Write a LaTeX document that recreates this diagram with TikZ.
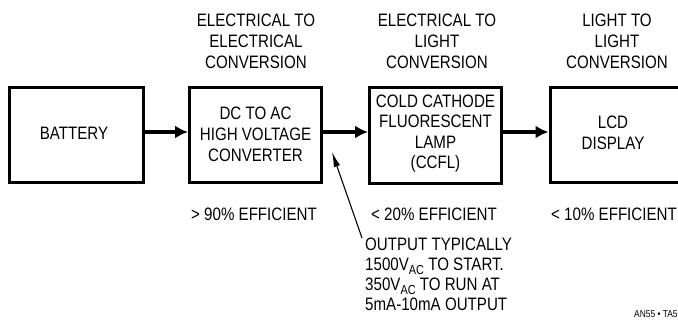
\documentclass[tikz,border=0pt]{standalone}
\usepackage{fontspec}
\setmainfont{Liberation Sans}[FakeStretch=0.84]
\usetikzlibrary{arrows.meta}
\begin{document}
\begin{tikzpicture}[x=1bp,y=-1bp,
  blk/.style={draw,line width=3bp,inner sep=0pt},
  lbl/.style={inner sep=0pt,align=center,font=\fontsize{18bp}{21bp}\selectfont},
  note/.style={inner sep=0pt,align=left,font=\fontsize{18bp}{20bp}\selectfont},
  flow/.style={line width=3.2bp,-{Latex[length=13bp,width=13bp]}},
  point/.style={line width=1.1bp,-{Latex[length=15bp,width=6.5bp]}}]
\useasboundingbox (0,0) rectangle (678,320);
\clip (0,0) rectangle (678,320);
% boxes
\node[blk,minimum width=133.5bp,minimum height=95bp] (battery) at (76.25,134.5) {};
\node[blk,minimum width=132bp,minimum height=95bp] (dcac) at (255.5,134.5) {};
\node[blk,minimum width=132bp,minimum height=96bp] (ccfl) at (435.5,135) {};
\node[blk,minimum width=150bp,minimum height=95bp,anchor=west] (lcd) at (548.5,134.5) {};
% box texts
\node[lbl] (tbat) at (74,133) {BATTERY};
\node[lbl] (tdc) at (255.5,134.5) {DC TO AC\\HIGH VOLTAGE\\CONVERTER};
\node[lbl,font=\fontsize{18bp}{20.3bp}\selectfont] (tccfl) at (435.5,133.5) {COLD CATHODE\\FLUORESCENT\\LAMP\\(CCFL)};
\node[lbl] (tlcd) at (613,132.5) {LCD\\DISPLAY};
% headers
\node[lbl] (h1) at (256,41) {ELECTRICAL TO\\ELECTRICAL\\CONVERSION};
\node[lbl] (h2) at (437,41) {ELECTRICAL TO\\LIGHT\\CONVERSION};
\node[lbl] (h3) at (617,41) {LIGHT TO\\LIGHT\\CONVERSION};
% efficiencies
\node[lbl] (e1) at (254,214.5) {> 90\% EFFICIENT};
\node[lbl] (e2) at (434,214.5) {< 20\% EFFICIENT};
\node[lbl] (e3) at (614,214.5) {< 10\% EFFICIENT};
% note
\node[note,anchor=north west] (nt) at (365,238) {OUTPUT TYPICALLY\\
1500V\raisebox{-4bp}{\fontsize{13bp}{13bp}\selectfont AC} TO START.\\
350V\raisebox{-4bp}{\fontsize{13bp}{13bp}\selectfont AC} TO RUN AT\\
5mA-10mA OUTPUT};
\coordinate (tip) at (332,152);
\node[inner sep=0pt,anchor=base west,font=\fontsize{10bp}{12bp}\selectfont] (ref) at (634,317) {AN55 • TA59};
% connectors
\draw[flow] ([yshift=2.5bp]battery.east) -- ([yshift=2.5bp]dcac.west);
\draw[flow] ([yshift=2.5bp]dcac.east) -- ([yshift=3bp]ccfl.west);
\draw[flow] ([yshift=3bp]ccfl.east) -- ([yshift=2.5bp]lcd.west);
\draw[point] ([xshift=-3bp]nt.north west) -- (tip);
\end{tikzpicture}
\end{document}
